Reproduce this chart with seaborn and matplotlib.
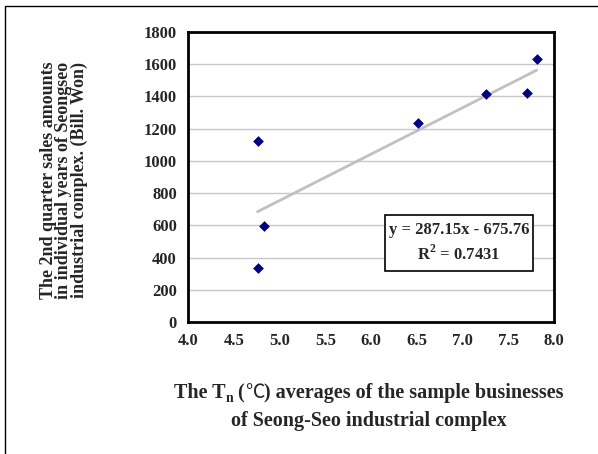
import numpy as np
import matplotlib
matplotlib.use('Agg')
import matplotlib.pyplot as plt
from matplotlib.patches import Rectangle
import seaborn as sns

# values
tn_avg = [4.76, 4.77, 4.83, 6.51, 7.26, 7.71, 7.81]
sales = [337, 1123, 598, 1233, 1418, 1423, 1635]
x_ticks = [4.0, 4.5, 5.0, 5.5, 6.0, 6.5, 7.0, 7.5, 8.0]
y_ticks = [0, 200, 400, 600, 800, 1000, 1200, 1400, 1600, 1800]
eq_text = 'y = 287.15x - 675.76'
r2_text = 'R$^\\mathbf{2}$ = 0.7431'

sns.set_style('white')
plt.rcParams['font.family'] = ['Liberation Serif', 'Noto Sans CJK KR', 'DejaVu Serif']
plt.rcParams['font.weight'] = 'bold'
plt.rcParams['mathtext.fontset'] = 'custom'
plt.rcParams['mathtext.rm'] = 'Liberation Serif:bold'
plt.rcParams['mathtext.bf'] = 'Liberation Serif:bold'

fig = plt.figure(figsize=(5.98, 4.54), dpi=100)
ax = fig.add_axes([188 / 598, 1 - 322 / 454, 366 / 598, 290 / 454])

sns.regplot(x=tn_avg, y=sales, ax=ax, ci=None, marker='D',
            scatter_kws=dict(color='#000080', s=30, alpha=1, zorder=3, linewidths=0),
            line_kws=dict(color='#C0C0C0', lw=2, zorder=2))

ax.set_xlim(4.0, 8.0)
ax.set_ylim(0, 1800)
ax.set_xticks(x_ticks)
ax.set_xticklabels(['%.1f' % v for v in x_ticks])
ax.set_yticks(y_ticks)
ax.set_yticklabels([str(v) for v in y_ticks])
ax.tick_params(axis='x', direction='in', length=4, width=1, color='black', pad=8, labelsize=12)
ax.tick_params(axis='y', length=0, pad=8, labelsize=12)
ax.grid(axis='y', color='#C8C8C8', lw=1)
ax.set_axisbelow(True)
for s in ax.spines.values():
    s.set_visible(True)
    s.set_color('black')
    s.set_linewidth(2)

# equation box
ax.add_patch(Rectangle((0.538, 0.176), 0.405, 0.193, transform=ax.transAxes,
                       facecolor='white', edgecolor='black', lw=1.2, zorder=4))
ax.text(0.740, 0.317, eq_text, transform=ax.transAxes, ha='center', va='center',
        fontsize=12, fontweight='bold', zorder=5)
ax.text(0.740, 0.235, r2_text, transform=ax.transAxes, ha='center', va='center',
        fontsize=12, fontweight='bold', zorder=5)

fig.text(64 / 598, 1 - 180 / 454,
         'The 2nd quarter sales amounts\nin individual years of Seongseo\nindustrial complex. (Bill. Won)',
         rotation=90, ha='center', va='center', fontsize=13, fontweight='bold', linespacing=0.88)

# x label line 1 is put together piece by piece (subscript n, and the degree sign
# needs a font that has it)
pieces = [('The T', 14.5, 0, ['Liberation Serif'], 'bold'),
          ('n', 10, -4, ['Liberation Serif'], 'bold'),
          (' (', 14.5, 0, ['Liberation Serif'], 'bold'),
          ('\u2103', 14, 0, ['Noto Sans CJK KR'], 'normal'),
          (') averages of the sample businesses', 14.5, 0, ['Liberation Serif'], 'bold')]
renderer = fig.canvas.get_renderer()
arts = []
for txt, size, dy, fam, wt in pieces:
    t = fig.text(0, 0, txt, fontsize=size, fontweight=wt, family=fam,
                 ha='left', va='baseline')
    arts.append((t, dy))
widths = [t.get_window_extent(renderer).width for t, _ in arts]
x0 = 369 - sum(widths) / 2
base = 454 - 398
for (t, dy), w in zip(arts, widths):
    t.set_position((x0 / 598, (base + dy) / 454))
    x0 += w

fig.text(369 / 598, 1 - 421 / 454, 'of Seong-Seo industrial complex',
         ha='center', va='center', fontsize=14.5, fontweight='bold')

# outer frame (only left and top edges visible in the picture)
fig.add_artist(Rectangle((5 / 598, -0.1), 1.2, 1.1 - 6 / 454, transform=fig.transFigure,
                         facecolor='none', edgecolor='black', lw=1, clip_on=False))

fig.savefig('out.png', dpi=100)
